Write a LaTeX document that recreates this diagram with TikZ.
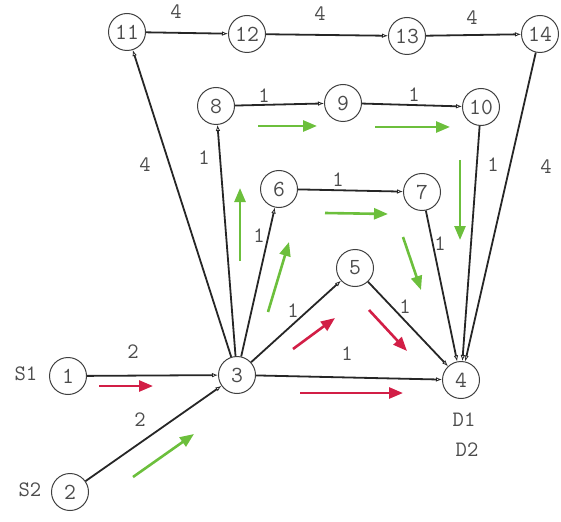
\documentclass[tikz,border=0pt]{standalone}
\usepackage{fontspec}
\usetikzlibrary{arrows.meta}
\definecolor{flowred}{HTML}{D21E46}
\definecolor{flowgreen}{HTML}{6CBF3C}
\tikzset{
  vtx/.style={circle,draw=black!75,line width=1pt,minimum size=37pt,inner sep=0pt,font=\ttfamily\fontsize{23}{23}\selectfont,text=black!70},
  edge/.style={draw=black!85,line width=1.8pt,-{Latex[open,length=6pt,width=4.5pt,line width=0.8pt]}},
  lab/.style={font=\ttfamily\fontsize{22}{22}\selectfont,text=black!70},
  redflow/.style={draw=flowred,line width=2.6pt,-{Triangle[length=14pt,width=11pt]}},
  greenflow/.style={draw=flowgreen,line width=2.6pt,-{Triangle[length=14pt,width=11pt]}}
}
\begin{document}
\begin{tikzpicture}[x=1pt,y=-1pt]
\useasboundingbox (0,0) rectangle (561,521);
\node[vtx] (n11) at (127,32) {11};
\node[vtx] (n12) at (247,34) {12};
\node[vtx] (n13) at (407,36) {13};
\node[vtx] (n14) at (540,34) {14};
\node[vtx] (n8) at (216,106) {8};
\node[vtx] (n9) at (343,103) {9};
\node[vtx] (n10) at (481,107) {10};
\node[vtx] (n6) at (279,189) {6};
\node[vtx] (n7) at (422,192) {7};
\node[vtx] (n5) at (355,268) {5};
\node[vtx] (n3) at (237,375) {3};
\node[vtx] (n4) at (461,380) {4};
\node[vtx] (n1) at (68,376) {1};
\node[vtx] (n2) at (70,492) {2};
\node[lab] (s1) at (26,374) {S1};
\node[lab] (s2) at (30,490) {S2};
\node[lab] (d1) at (464,420) {D1};
\node[lab] (d2) at (467,450) {D2};
% edges
\draw[edge] (n1) -- (n3);
\draw[edge] (n2) -- (n3);
\draw[edge] (n3) -- (n11);
\draw[edge] (n3) -- (n8);
\draw[edge] (n3) -- (n6);
\draw[edge] (n3) -- (n5);
\draw[edge] (n3) -- (n4);
\draw[edge] (n11) -- (n12);
\draw[edge] (n12) -- (n13);
\draw[edge] (n13) -- (n14);
\draw[edge] (n14) -- (n4);
\draw[edge] (n8) -- (n9);
\draw[edge] (n9) -- (n10);
\draw[edge] (n10) -- (n4);
\draw[edge] (n6) -- (n7);
\draw[edge] (n7) -- (n4);
\draw[edge] (n5) -- (n4);
% edge labels
\node[lab] (l1112) at (176,12) {4};
\node[lab] (l1213) at (320,14) {4};
\node[lab] (l1314) at (472,18) {4};
\node[lab] (l311) at (145,165) {4};
\node[lab] (l144) at (546,167) {4};
\node[lab] (l89) at (264,96) {1};
\node[lab] (l910) at (414,95) {1};
\node[lab] (l38) at (204,158) {1};
\node[lab] (l104) at (493,165) {1};
\node[lab] (l67) at (338,180) {1};
\node[lab] (l36) at (259,236) {1};
\node[lab] (l74) at (440,244) {1};
\node[lab] (l35) at (293,311) {1};
\node[lab] (l54) at (405,307) {1};
\node[lab] (l34) at (347,354) {1};
\node[lab] (l13) at (133,352) {2};
\node[lab] (l23) at (140,420) {2};
% flows
\coordinate (r1a) at (99,386); \coordinate (r1b) at (153,386);
\coordinate (r2a) at (293,349); \coordinate (r2b) at (335,318);
\coordinate (r3a) at (369,310); \coordinate (r3b) at (407,351);
\coordinate (r4a) at (300,393); \coordinate (r4b) at (403,393);
\draw[redflow] (r1a) -- (r1b);
\draw[redflow] (r2a) -- (r2b);
\draw[redflow] (r3a) -- (r3b);
\draw[redflow] (r4a) -- (r4b);
\coordinate (g1a) at (133,477); \coordinate (g1b) at (194,434);
\coordinate (g2a) at (240,261); \coordinate (g2b) at (240,188);
\coordinate (g3a) at (268,312); \coordinate (g3b) at (289,242);
\coordinate (g4a) at (258,126); \coordinate (g4b) at (317,126);
\coordinate (g5a) at (375,127); \coordinate (g5b) at (450,127);
\coordinate (g6a) at (325,213); \coordinate (g6b) at (388,214);
\coordinate (g7a) at (403,237); \coordinate (g7b) at (421,290);
\coordinate (g8a) at (460,160); \coordinate (g8b) at (460,240);
\draw[greenflow] (g1a) -- (g1b);
\draw[greenflow] (g2a) -- (g2b);
\draw[greenflow] (g3a) -- (g3b);
\draw[greenflow] (g4a) -- (g4b);
\draw[greenflow] (g5a) -- (g5b);
\draw[greenflow] (g6a) -- (g6b);
\draw[greenflow] (g7a) -- (g7b);
\draw[greenflow] (g8a) -- (g8b);
\end{tikzpicture}
\end{document}
